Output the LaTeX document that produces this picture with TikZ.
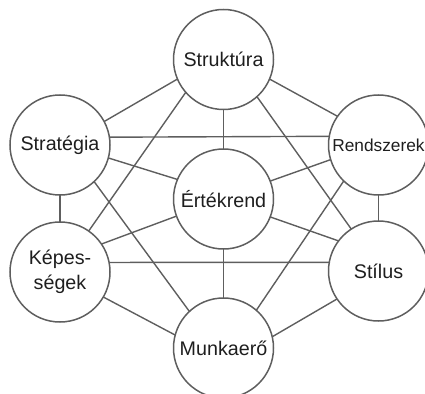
\documentclass[tikz,border=0pt]{standalone}
\usepackage{fontspec}
\setmainfont{Liberation Sans}
\definecolor{circ}{HTML}{5E5E5E}
\definecolor{lnk}{HTML}{5E5E5E}
\definecolor{txt}{HTML}{1E1E1E}
\begin{document}
\begin{tikzpicture}[x=1pt,y=-1pt,
  disc/.style={circle,draw=circ,line width=1.5pt,minimum size=100pt,inner sep=0pt,outer sep=0pt,
    font=\fontsize{19.7}{25}\selectfont,text=txt,align=center},
  link/.style={draw=lnk,line width=1.4pt}]
\useasboundingbox (0,0) rectangle (425,393);
\node[disc] (A) at (223.5,59.5) {Struktúra};
\node[disc] (B) at (60,145) {Stratégia};
\node[disc,font=\fontsize{17.3}{20}\selectfont] (C) at (378.5,145) {Rendszerek};
\node[disc] (D) at (223.5,199) {Értékrend};
\node[disc] (E) at (60,272) {Képes-\\ségek};
\node[disc] (F) at (378.5,271) {Stílus};
\node[disc] (G) at (223.5,348) {Munkaerő};
\draw[link] (A.203) -- (B.28.6);
\draw[link] (A.337.7) -- (C.145.9);
\draw[link] (A.270) -- (D.90);
\draw[link] (A.221) -- (E.55.5);
\draw[link] (A.312) -- (F.123.2);
\draw[link] (B.9.6) -- (C.170.4);
\draw[link] (B.345.5) -- (D.157.2);
\draw[link] (B.270) -- (E.90);
\draw[link] (B.313.6) -- (G.133.7);
\draw[link] (C.197.5) -- (D.21.1);
\draw[link] (C.270) -- (F.90);
\draw[link] (C.226.2) -- (G.49.6);
\draw[link] (D.200.7) -- (E.34.5);
\draw[link] (D.339.2) -- (F.143.9);
\draw[link] (D.270) -- (G.90);
\draw[link] (E.11.2) -- (F.170);
\draw[link] (E.330.9) -- (G.165.8);
\draw[link] (F.214.5) -- (G.13.2);
\end{tikzpicture}
\end{document}
